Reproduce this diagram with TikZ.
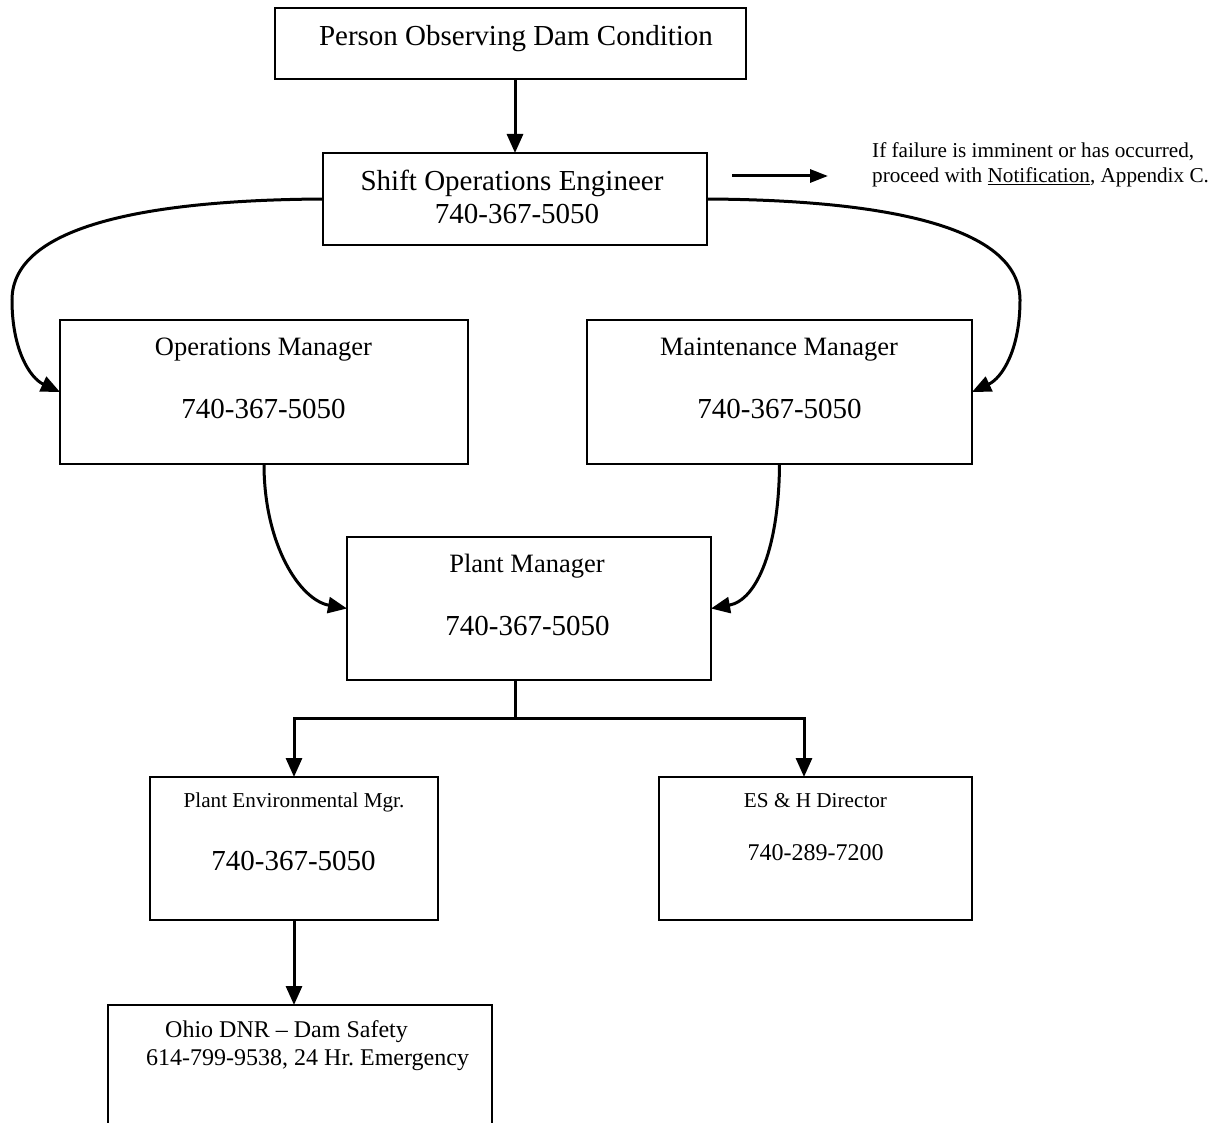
\documentclass[tikz,border=0pt]{standalone}
\usepackage{fontspec}
\setmainfont{Liberation Serif}
\usetikzlibrary{arrows.meta,calc}
\newcommand\ftbig{\fontsize{29}{34}\selectfont}
\newcommand\ftmid{\fontsize{26.5}{31}\selectfont}
\newcommand\ftphs{\fontsize{24}{28}\selectfont}
\newcommand\ftsmall{\fontsize{21.2}{25}\selectfont}
\frenchspacing
\begin{document}
\begin{tikzpicture}[x=1pt,y=-1pt,
  box/.style={draw, line width=2.2pt, rectangle, inner sep=0pt, outer sep=0pt},
  txt/.style={inner sep=0pt, anchor=base},
  conn/.style={line width=3pt, -{Triangle[length=19pt,width=16pt]}},
  plain/.style={line width=3pt}]
\useasboundingbox (0,0) rectangle (1225,1123);

% boxes
\node[box, minimum width=471pt, minimum height=71pt] (A) at (510.5,43.5) {};
\node[box, minimum width=384pt, minimum height=92pt] (B) at (515,199) {};
\node[box, minimum width=408pt, minimum height=144pt] (ops) at (264,392) {};
\node[box, minimum width=385pt, minimum height=144pt] (maint) at (779.5,392) {};
\node[box, minimum width=364pt, minimum height=143pt] (plant) at (529,608.5) {};
\node[box, minimum width=288pt, minimum height=143pt] (env) at (294,848.5) {};
\node[box, minimum width=313pt, minimum height=143pt] (esh) at (815.5,848.5) {};
\node[box, minimum width=384pt, minimum height=135pt] (ohio) at (300,1072.5) {};

% texts
\node[txt] (At) at (516,46) {\ftbig Person Observing Dam Condition};
\node[txt] (Bt1) at (512,191) {\ftbig Shift Operations Engineer};
\node[txt] (Bt2) at (517,224) {\ftbig 740-367-5050};
\node[txt] (opst) at (263.5,355) {\ftmid Operations Manager};
\node[txt] (opsp) at (263.5,418) {\ftbig 740-367-5050};
\node[txt] (maintt) at (779,355) {\ftmid Maintenance Manager};
\node[txt] (maintp) at (779.5,418) {\ftbig 740-367-5050};
\node[txt] (plantt) at (527,572) {\ftmid Plant Manager};
\node[txt] (plantp) at (527.5,635) {\ftbig 740-367-5050};
\node[txt] (envt) at (294,807) {\ftsmall Plant Environmental Mgr.};
\node[txt] (envp) at (293.5,870) {\ftbig 740-367-5050};
\node[txt] (esht) at (815.5,807) {\ftsmall ES \& H Director};
\node[txt] (eshp) at (815.5,860) {\ftphs 740-289-7200};
\node[txt, anchor=base west] (ohio1) at (165,1037) {\ftphs Ohio DNR – Dam Safety};
\node[txt, anchor=base west] (ohio2) at (146,1065) {\ftphs 614-799-9538, 24 Hr. Emergency};
\node[txt, anchor=base west] (note1) at (872,158) {\ftsmall If failure is imminent or has occurred,};
\node[txt, anchor=base west] (note2) at (872,183) {\ftsmall proceed with \underline{Notification}, Appendix C.};

% connectors
\draw[conn] (B.north |- A.south) -- (B.north);
\coordinate (sa1) at (732,176);
\coordinate (sa2) at (828,176);
\draw[line width=3pt, -{Triangle[length=18pt,width=13pt]}] (sa1) -- (sa2);

\draw[conn] (B.west) .. controls (150,200) and (12,225) .. (12,300)
  .. controls (12,350) and (30,378) .. (ops.west);
\draw[conn] (B.east) .. controls (880,200) and (1020,225) .. (1020,300)
  .. controls (1020,350) and (1002,378) .. (maint.east);

\draw[conn] (ops.south) .. controls (264,545) and (300,600) .. (plant.west);
\draw[conn] (maint.south) .. controls (779,545) and (758,600) .. (plant.east);

\coordinate (split) at (515,718);
\coordinate (eshin) at ($(esh.north)+(-11.5,0)$);
\draw[plain] (plant.south -| split) -- (split);
\draw[conn] (split) -| (env.north);
\draw[conn] (split) -| (eshin);
\draw[conn] (env.south) -- (env.south |- ohio.north);
\end{tikzpicture}
\end{document}
